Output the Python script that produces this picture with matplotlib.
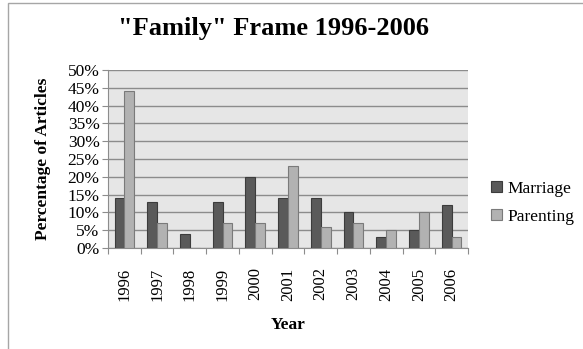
import numpy as np
import matplotlib.pyplot as plt
from matplotlib.patches import Rectangle
from matplotlib.ticker import FuncFormatter, MultipleLocator

# Share of articles using the "family" frame, by year
years = ['1996', '1997', '1998', '1999', '2000', '2001',
         '2002', '2003', '2004', '2005', '2006']
marriage = [14, 13, 4, 13, 20, 14, 14, 10, 3, 5, 12]
parenting = [44, 7, 0, 7, 7, 23, 6, 7, 5, 10, 3]

fig = plt.figure(figsize=(5.83, 3.49), dpi=100)
ax = fig.add_axes([108/583, 1 - 248/349, 360/583, 178/349])

# thin frame round the whole chart
fig.patches.append(Rectangle((8/583, -0.1), 1.2, 1 - 3/349 + 0.1,
                             transform=fig.transFigure, fill=False,
                             ec='#a6a6a6', lw=1.0))

x = np.arange(len(years))
w = 0.3
ax.bar(x - w/2, marriage, w, color='#5a5a5a', edgecolor='#3c3c3c', lw=0.8,
       label='Marriage', zorder=3)
ax.bar(x + w/2, parenting, w, color='#b2b2b2', edgecolor='#7a7a7a', lw=0.8,
       label='Parenting', zorder=3)

ax.set_facecolor('#e6e6e6')
ax.set_xlim(-0.5, len(years) - 0.5)
ax.set_ylim(0, 50)
ax.yaxis.set_major_locator(MultipleLocator(5))
ax.yaxis.set_major_formatter(FuncFormatter(lambda v, p: f'{v:.0f}%'))
ax.grid(axis='y', color='#8c8c8c', lw=1.0, zorder=1)

for s in ['top', 'right']:
    ax.spines[s].set_visible(False)
for s in ['left', 'bottom']:
    ax.spines[s].set_color('#8c8c8c')

# category ticks sit between the year groups
ax.set_xticks(np.arange(-0.5, len(years), 1), minor=False)
ax.set_xticklabels([])
ax.set_xticks(x, minor=True)
ax.set_xticklabels(years, minor=True, rotation=90, fontsize=12,
                   family='Liberation Serif')
ax.tick_params(axis='x', which='major', length=4, color='#8c8c8c', direction='out')
ax.tick_params(axis='x', which='minor', length=0, pad=14)
ax.tick_params(axis='y', length=4, color='#8c8c8c', labelsize=12.5, pad=2)
for t in ax.get_yticklabels():
    t.set_family('Liberation Serif')

ax.set_ylabel('Percentage of Articles', family='Liberation Serif',
              fontweight='bold', fontsize=12.5, labelpad=12)
ax.set_xlabel('Year', family='Liberation Serif', fontweight='bold',
              fontsize=12.5, labelpad=12)

fig.text(274/583, 1 - 29/349, '"Family" Frame 1996-2006', ha='center',
         va='center', family='Liberation Serif', fontweight='bold', fontsize=19)

ax.legend(loc='center left', bbox_to_anchor=(1.065, 0.255), frameon=False,
          borderpad=0, borderaxespad=0,
          prop={'family': 'Liberation Serif', 'size': 12.5}, handlelength=0.6,
          handleheight=0.6, handletextpad=0.3, labelspacing=0.7)

fig.savefig('out.png', dpi=100)
